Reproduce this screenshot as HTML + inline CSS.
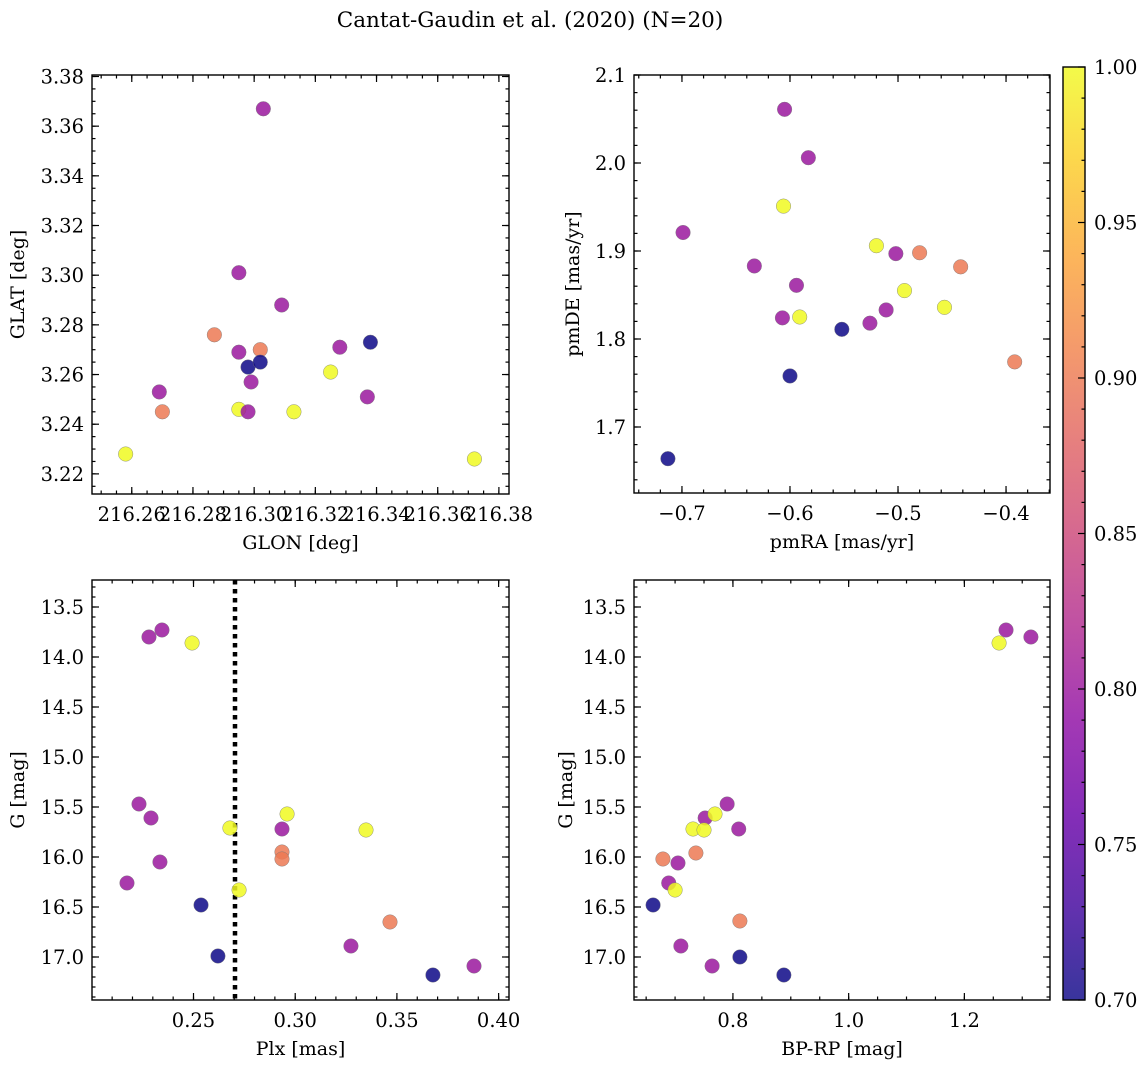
<!DOCTYPE html>
<html><head><meta charset="utf-8"><style>
body{margin:0;background:#fff;}
svg{display:block;font-family:"DejaVu Serif","Liberation Serif",serif;}
</style></head><body>
<svg id="fig" width="1148" height="1067" viewBox="0 0 1148 1067" xmlns="http://www.w3.org/2000/svg">
<text x="530" y="27" font-size="21.5" text-anchor="middle">Cantat-Gaudin et al. (2020) (N=20)</text>
</svg>
<script>
// ---- data ----
const glon = [216.309,216.287,216.295,216.302,216.298,216.302,216.328,216.338,216.325,216.299,216.269,216.270,216.337,216.295,216.298,216.313,216.258,216.372,216.303,216.295];
const glat = [3.288,3.276,3.269,3.270,3.263,3.265,3.271,3.273,3.261,3.257,3.253,3.245,3.251,3.246,3.245,3.245,3.228,3.226,3.367,3.301];
const pA = [0.8,0.9,0.8,0.9,0.7,0.7,0.8,0.7,1.0,0.8,0.8,0.9,0.8,1.0,0.8,1.0,1.0,1.0,0.8,0.8];
const pmra = [-0.606,-0.699,-0.520,-0.502,-0.480,-0.633,-0.442,-0.594,-0.494,-0.457,-0.511,-0.607,-0.591,-0.526,-0.552,-0.392,-0.600,-0.713,-0.605,-0.583];
const pmde = [1.951,1.921,1.906,1.897,1.898,1.883,1.882,1.861,1.855,1.836,1.833,1.824,1.825,1.818,1.811,1.774,1.758,1.664,2.061,2.006];
const pB = [1.0,0.8,1.0,0.8,0.9,0.8,0.9,0.8,1.0,1.0,0.8,0.8,1.0,0.8,0.7,0.9,0.7,0.7,0.8,0.8];
const plx = [0.2232,0.2291,0.2679,0.2335,0.2173,0.2537,0.2620,0.2724,0.2960,0.2935,0.2935,0.2935,0.3348,0.3466,0.3274,0.3677,0.3879,0.2281,0.2345,0.2493];
const gC = [15.47,15.61,15.71,16.05,16.26,16.48,16.99,16.33,15.57,15.72,15.95,16.02,15.73,16.65,16.89,17.18,17.09,13.80,13.73,13.86];
const pC = [0.8,0.8,1.0,0.8,0.8,0.7,0.7,1.0,1.0,0.8,0.9,0.9,1.0,0.9,0.8,0.7,0.8,0.8,0.8,1.0];
const bprp = [0.790,0.752,0.769,0.731,0.750,0.810,0.679,0.736,0.705,0.689,0.700,0.662,0.812,0.710,0.812,0.764,0.888,1.315,1.272,1.260];
const gD = [15.47,15.61,15.57,15.72,15.73,15.72,16.02,15.96,16.06,16.26,16.33,16.48,16.64,16.89,17.00,17.09,17.18,13.80,13.73,13.86];
const pD = [0.8,0.8,1.0,1.0,1.0,0.8,0.9,0.9,0.8,0.8,1.0,0.7,0.9,0.8,0.7,0.8,0.7,0.8,0.8,1.0];
const plxCut = 0.2704;
const cbTicks = [0.70,0.75,0.80,0.85,0.90,0.95,1.00];

const NS="http://www.w3.org/2000/svg";
const svg=document.getElementById('fig');
function mk(tag,attrs,parent){const e=document.createElementNS(NS,tag);for(const k in attrs)e.setAttribute(k,attrs[k]);(parent||svg).appendChild(e);return e;}
const plasma=[[13,8,135],[65,4,157],[106,0,168],[143,13,164],[177,42,144],[204,71,120],[225,100,98],[242,132,75],[252,166,54],[252,206,37],[240,249,33]];
function cmap(v){let t=(v-0.7)/0.3;t=Math.max(0,Math.min(1,t));const f=t*10,i=Math.min(9,Math.floor(f)),r=f-i;const a=plasma[i],b=plasma[i+1];return 'rgb('+[0,1,2].map(k=>Math.round(a[k]+(b[k]-a[k])*r)).join(',')+')';}
const TF=19.5, LF=19;

function panel(o){
  const g=mk('g',{});
  
  
  const W=o.r-o.l,H=o.b-o.t;
  const X=v=>o.l+(v-o.x0)/(o.x1-o.x0)*W;
  const Y=o.inv?(v=>o.t+(v-o.y1)/(o.y0-o.y1)*H):(v=>o.b-(v-o.y0)/(o.y1-o.y0)*H);
  const tk=(lo,hi,st)=>{const a=[];for(let k=Math.ceil(lo/st-1e-6);k*st<=hi+1e-9;k++)a.push(k*st);return a;};
  const tg=mk('g',{stroke:'#000','stroke-width':1.2},g);
  
  
  const xlo=Math.min(o.x0,o.x1),xhi=Math.max(o.x0,o.x1),ylo=Math.min(o.y0,o.y1),yhi=Math.max(o.y0,o.y1);
  tk(xlo,xhi,o.xm).forEach(v=>{const x=X(v);mk('line',{x1:x,x2:x,y1:o.b,y2:o.b-3.5},tg);mk('line',{x1:x,x2:x,y1:o.t,y2:o.t+3.5},tg);});
  tk(ylo,yhi,o.ym).forEach(v=>{const y=Y(v);mk('line',{x1:o.l,x2:o.l+3.5,y1:y,y2:y},tg);mk('line',{x1:o.r,x2:o.r-3.5,y1:y,y2:y},tg);});
  tk(xlo,xhi,o.xM).forEach(v=>{const x=X(v);mk('line',{x1:x,x2:x,y1:o.b,y2:o.b-7},tg);mk('line',{x1:x,x2:x,y1:o.t,y2:o.t+7},tg);
    const t=mk('text',{x:x,y:o.b+27,'font-size':TF,'text-anchor':'middle',stroke:'none'},g);t.textContent=v.toFixed(o.xd).replace('-','\u2212');
    });
  tk(ylo,yhi,o.yM).forEach(v=>{const y=Y(v);mk('line',{x1:o.l,x2:o.l+7,y1:y,y2:y},tg);mk('line',{x1:o.r,x2:o.r-7,y1:y,y2:y},tg);
    const t=mk('text',{x:o.l-8,y:y+7,'font-size':TF,'text-anchor':'end'},g);t.textContent=v.toFixed(o.yd);
    });
  if(o.vline!==undefined){const l=mk('line',{x1:X(o.vline),x2:X(o.vline),y1:o.t,y2:o.b,stroke:'#000','stroke-width':4.5,'stroke-dasharray':'4.5 4.5'},g);
    }
  o.xs.forEach((v,i)=>{const c=mk('circle',{cx:X(v),cy:Y(o.ys[i]),r:7.3,fill:cmap(o.cs[i]),'fill-opacity':0.85,stroke:'#777','stroke-width':0.4},g);
    });
  const f=mk('rect',{x:o.l,y:o.t,width:W,height:H,fill:'none',stroke:'#000','stroke-width':1.4},g);
  
  const xl=mk('text',{x:(o.l+o.r)/2,y:o.b+55,'font-size':LF,'text-anchor':'middle'},g);xl.textContent=o.xl;
  
  const cy=(o.t+o.b)/2;const yl=mk('text',{x:o.ylx,y:cy,'font-size':LF,'text-anchor':'middle',transform:'rotate(-90 '+o.ylx+' '+cy+')'},g);yl.textContent=o.yl;
  
}
panel({name:'glon-glat-panel',l:92,r:509,t:75,b:494,x0:216.247,x1:216.3833,y0:3.2119,y1:3.3806,xM:0.02,xm:0.005,yM:0.02,ym:0.005,xd:2,yd:2,xs:glon,ys:glat,cs:pA,xl:'GLON [deg]',yl:'GLAT [deg]',ylx:24});
panel({name:'pm-panel',l:634,r:1050,t:75,b:493,x0:-0.7444,x1:-0.3593,y0:1.625,y1:2.1,xM:0.1,xm:0.02,yM:0.1,ym:0.02,xd:1,yd:1,xs:pmra,ys:pmde,cs:pB,xl:'pmRA [mas/yr]',yl:'pmDE [mas/yr]',ylx:579});
panel({name:'plx-g-panel',l:92,r:509,t:580,b:1000,x0:0.2001,x1:0.4051,y0:17.43,y1:13.23,inv:true,xM:0.05,xm:0.01,yM:0.5,ym:0.1,xd:2,yd:1,xs:plx,ys:gC,cs:pC,xl:'Plx [mas]',yl:'G [mag]',ylx:24,vline:plxCut});
panel({name:'cmd-panel',l:634,r:1050,t:580,b:1000,x0:0.629,x1:1.348,y0:17.43,y1:13.23,inv:true,xM:0.2,xm:0.05,yM:0.5,ym:0.1,xd:1,yd:1,xs:bprp,ys:gD,cs:pD,xl:'BP-RP [mag]',yl:'G [mag]',ylx:572});

const cb=mk('g',{});


const defs=mk('defs',{},cb);const lg=mk('linearGradient',{id:'pl',x1:0,y1:1,x2:0,y2:0},defs);
plasma.forEach((c,i)=>mk('stop',{offset:(i/10),'stop-color':'rgb('+c.join(',')+')'},lg));
const cbT=67,cbB=1000,cbL=1063,cbR=1085;
const CY=v=>cbB-(v-0.7)/0.3*(cbB-cbT);
mk('rect',{x:cbL,y:cbT,width:cbR-cbL,height:cbB-cbT,fill:'url(#pl)','fill-opacity':0.82},cb);
for(let k=70;k<=100;k++){const y=CY(k/100);if(k%5)mk('line',{x1:cbR,x2:cbR-3.5,y1:y,y2:y,stroke:'#000','stroke-width':1.2},cb);}
cbTicks.forEach(v=>{const y=CY(v);mk('line',{x1:cbR,x2:cbR-7,y1:y,y2:y,stroke:'#000','stroke-width':1.2},cb);
  const t=mk('text',{x:1094,y:y+7,'font-size':TF},cb);t.textContent=v.toFixed(2);
  });
mk('rect',{x:cbL,y:cbT,width:cbR-cbL,height:cbB-cbT,fill:'none',stroke:'#000','stroke-width':1.4},cb);
</script>
</body></html>
